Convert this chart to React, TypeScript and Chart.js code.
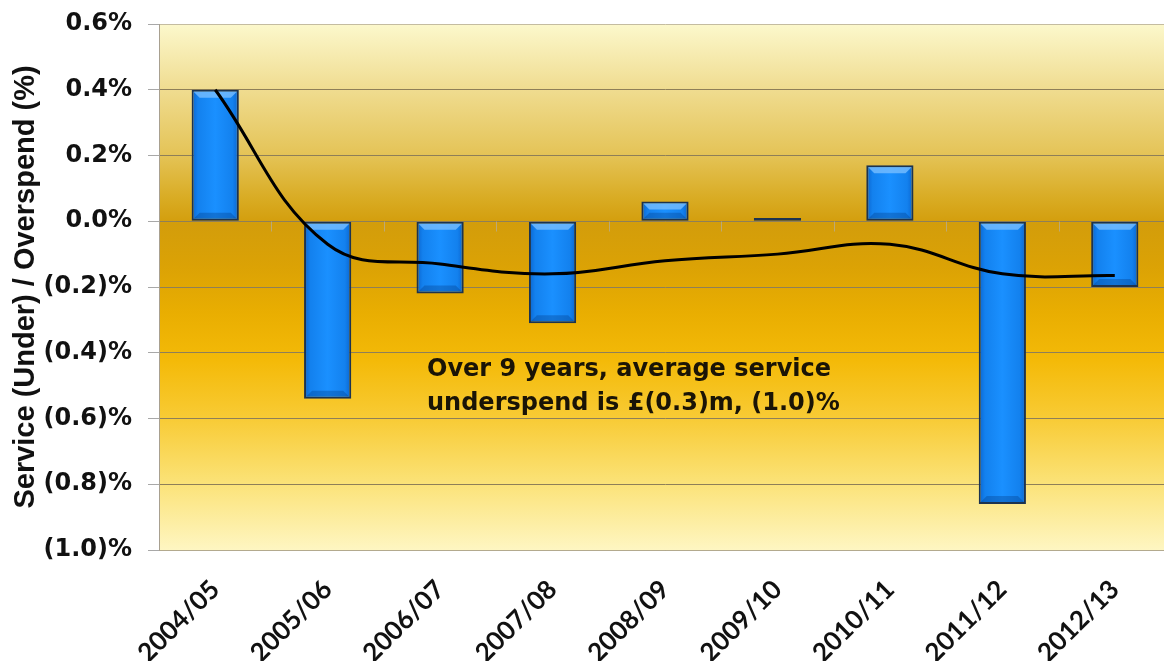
import React, { useEffect, useRef } from "react";
import { Chart, registerables } from "chart.js";

Chart.register(...registerables);

// ---- data ----
const categories = ["2004/05", "2005/06", "2006/07", "2007/08", "2008/09", "2009/10", "2010/11", "2011/12", "2012/13"];
const varianceValues = [0.40, -0.54, -0.22, -0.31, 0.06, 0.01, 0.17, -0.86, -0.20];
const averageValues = [0.40, -0.07, -0.13, -0.16, -0.12, -0.10, -0.07, -0.16, -0.165];
const yTickValues = [-1.0, -0.8, -0.6, -0.4, -0.2, 0, 0.2, 0.4, 0.6];
const yAxisTitle = "Service (Under) / Overspend (%)";
const noteLines = ["Over 9 years, average service", "underspend is £(0.3)m, (1.0)%"];

const W = 1172;
const H = 661;

const fmtPct = (v: number) => (v < -1e-9 ? `(${Math.abs(v).toFixed(1)})%` : `${Math.abs(v).toFixed(1)}%`);

const backgroundPlugin = {
  id: "plotBackground",
  beforeDraw(chart: any) {
    const { ctx, chartArea } = chart;
    ctx.save();
    ctx.fillStyle = "#ffffff";
    ctx.fillRect(0, 0, chart.width, chart.height);
    if (chartArea) {
      const g = ctx.createLinearGradient(0, chartArea.top, 0, chartArea.bottom);
      g.addColorStop(0, "#FCF8CC");
      g.addColorStop(0.12, "#F0DD92");
      g.addColorStop(0.25, "#E4C356");
      g.addColorStop(0.33, "#D9AC24");
      g.addColorStop(0.38, "#D39D0B");
      g.addColorStop(0.46, "#DBA205");
      g.addColorStop(0.55, "#E9AE01");
      g.addColorStop(0.64, "#F4BA08");
      g.addColorStop(0.75, "#F8CB35");
      g.addColorStop(0.87, "#FBE276");
      g.addColorStop(1, "#FEF6C2");
      ctx.fillStyle = g;
      ctx.fillRect(chartArea.left, chartArea.top, chartArea.right - chartArea.left, chartArea.bottom - chartArea.top);
    }
    ctx.restore();
  },
};

const zeroTicksPlugin = {
  id: "zeroTicks",
  beforeDatasetsDraw(chart: any) {
    const xs = chart.scales.x;
    const ys = chart.scales.y;
    const ctx = chart.ctx;
    const y0 = Math.round(ys.getPixelForValue(0)) + 0.5;
    ctx.save();
    ctx.strokeStyle = "#BDA874";
    ctx.lineWidth = 1;
    ctx.beginPath();
    for (let i = 1; i < categories.length; i++) {
      const x = Math.round(xs.getPixelForValue(i - 0.5)) + 0.5;
      ctx.moveTo(x, y0);
      ctx.lineTo(x, y0 + 10);
    }
    ctx.stroke();
    ctx.restore();
  },
};

const bevelPlugin = {
  id: "barBevel",
  afterDatasetDraw(chart: any, args: any) {
    if (args.index !== 0) return;
    const ctx = chart.ctx;
    ctx.save();
    args.meta.data.forEach((el: any) => {
      const { x, y, base, width } = el.getProps(["x", "y", "base", "width"], true);
      const top = Math.min(y, base);
      const bottom = Math.max(y, base);
      if (bottom - top < 12) return;
      const l = x - width / 2 + 2;
      const r = x + width / 2 - 2;
      const t = top + 2;
      const b = bottom - 2;
      const d = 6;
      ctx.fillStyle = "rgba(120,190,255,0.8)";
      ctx.beginPath();
      ctx.moveTo(l, t);
      ctx.lineTo(r, t);
      ctx.lineTo(r - d, t + d);
      ctx.lineTo(l + d, t + d);
      ctx.closePath();
      ctx.fill();
      ctx.fillStyle = "rgba(0,50,120,0.3)";
      ctx.beginPath();
      ctx.moveTo(l, b);
      ctx.lineTo(r, b);
      ctx.lineTo(r - d, b - d);
      ctx.lineTo(l + d, b - d);
      ctx.closePath();
      ctx.fill();
    });
    ctx.restore();
  },
};

const notePlugin = {
  id: "note",
  afterDraw(chart: any) {
    const ctx = chart.ctx;
    ctx.save();
    ctx.font = "bold 24px 'DejaVu Sans'";
    ctx.fillStyle = "#1a1406";
    ctx.textAlign = "left";
    ctx.textBaseline = "alphabetic";
    ctx.fillText(noteLines[0], 427, 376);
    ctx.fillText(noteLines[1], 427, 410);
    ctx.restore();
  },
};

export default function App() {
  const ref = useRef<HTMLCanvasElement | null>(null);

  useEffect(() => {
    document.body.style.margin = "0";
    document.body.style.overflow = "hidden";
    document.documentElement.style.overflow = "hidden";
    const canvas = ref.current;
    if (!canvas) return;
    const chart = new Chart(canvas, {
      type: "bar",
      data: {
        labels: categories,
        datasets: [
          {
            type: "bar",
            data: varianceValues,
            order: 2,
            backgroundColor: (c: any) => {
              const ch = c.chart;
              const xs = ch.scales && ch.scales.x;
              if (!ch.chartArea || !xs || c.dataIndex === undefined) return "#1589F5";
              const cx = xs.getPixelForValue(c.dataIndex);
              const hw = 24;
              const g = ch.ctx.createLinearGradient(cx - hw, 0, cx + hw, 0);
              g.addColorStop(0, "#0A62CC");
              g.addColorStop(0.14, "#1381EE");
              g.addColorStop(0.5, "#1A90FF");
              g.addColorStop(0.86, "#1381EE");
              g.addColorStop(1, "#0A62CC");
              return g;
            },
            borderColor: "#1C3350",
            borderWidth: 2,
            borderSkipped: false,
            barPercentage: 0.42,
            categoryPercentage: 1,
          } as any,
          {
            type: "line",
            data: averageValues,
            order: 1,
            borderColor: "#000000",
            borderWidth: 3,
            tension: 0.4,
            pointRadius: 0,
            fill: false,
          } as any,
        ],
      },
      options: {
        responsive: false,
        animation: false,
        devicePixelRatio: 1,
        layout: { padding: { top: 24, right: 1, left: 0, bottom: 0 } },
        plugins: { legend: { display: false }, tooltip: { enabled: false } },
        scales: {
          x: {
            type: "category",
            offset: true,
            grid: { display: false, drawTicks: false },
            border: { display: true, color: "#B3AA8E", width: 1 },
            ticks: {
              color: "#111111",
              font: { family: "Lato", weight: "bold", size: 26 },
              minRotation: 45,
              maxRotation: 45,
              padding: 24,
              autoSkip: false,
            },
            afterFit: (s: any) => {
              s.height = 111;
              s.paddingLeft = 0;
              s.paddingRight = 0;
            },
          },
          y: {
            type: "linear",
            min: -1,
            max: 0.6,
            afterBuildTicks: (s: any) => {
              s.ticks = yTickValues.map((v) => ({ value: v }));
            },
            grid: {
              color: (c: any) => (c.tick && Math.abs(c.tick.value - 0.6) < 1e-6 ? "#C4BCA0" : "#8E7F58"),
              tickColor: "#A8A8A8",
              tickLength: 11,
              lineWidth: 1,
            },
            border: { display: true, color: "#A8A090", width: 1 },
            ticks: {
              color: "#111111",
              font: { family: "DejaVu Sans", weight: "bold", size: 24 },
              padding: 16,
              callback: (v: any) => fmtPct(Number(v)),
            },
            title: {
              display: true,
              text: yAxisTitle,
              color: "#111111",
              font: { family: "Liberation Sans", weight: "bold", size: 29, lineHeight: 1.2 },
              padding: { top: 9, bottom: 0 },
            },
            afterFit: (s: any) => {
              s.width = 159;
              s.paddingTop = 0;
              s.paddingBottom = 0;
            },
          },
        },
      } as any,
      plugins: [backgroundPlugin, zeroTicksPlugin, bevelPlugin, notePlugin],
    });
    return () => chart.destroy();
  }, []);

  return (
    <div style={{ position: "fixed", left: 0, top: 0, width: W, height: H, overflow: "hidden", background: "#fff" }}>
      <canvas ref={ref} width={W} height={H} style={{ display: "block", width: W, height: H }} />
    </div>
  );
}
